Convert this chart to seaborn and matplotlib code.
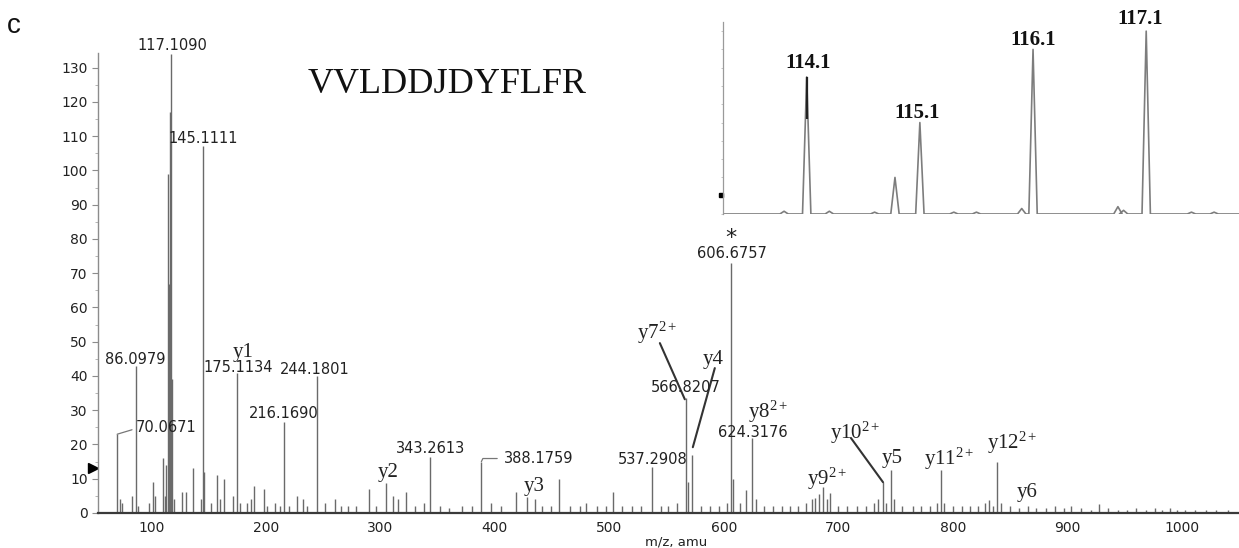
import matplotlib
matplotlib.use('Agg')
import numpy as np
import pandas as pd
import matplotlib.pyplot as plt
import seaborn as sns
from matplotlib.ticker import MultipleLocator, NullFormatter

sns.set_style('ticks')
plt.rcParams['font.family'] = ['DejaVu Sans']
plt.rcParams['mathtext.fontset'] = 'custom'
plt.rcParams['mathtext.rm'] = 'Liberation Serif'
plt.rcParams['mathtext.it'] = 'Liberation Serif:italic'

# ---------------- data: MS/MS spectrum (m/z, intensity) ----------------
peak_mz = [70.07, 72.1, 74.0, 83.4, 86.10, 88.0, 98.0, 101.1, 103.5, 110.1, 112.1,
           113.1, 114.1, 115.1, 116.1, 117.11, 118.1, 120.1, 127.1, 130.5, 136.1, 143.1,
           145.11, 146.1, 152.0, 157.6, 160.0, 163.0, 170.8, 175.11, 177.0, 183.8, 187.0,
           190.0, 198.7, 201.0, 208.0, 212.0, 216.17, 220.0, 227.5, 232.0, 236.0, 244.18,
           252.0, 260.0, 266.0, 272.0, 279.0, 290.4, 296.0, 305.0, 311.0, 315.0, 322.0,
           330.0, 338.0, 343.26, 352.0, 360.0, 371.0, 380.0, 388.18, 397.0, 405.0, 418.0,
           428.0, 434.6, 441.0, 449.0, 456.0, 466.0, 474.0, 480.0, 489.0, 497.0, 503.5,
           511.0, 520.0, 528.0, 537.29, 545.0, 551.0, 559.0, 566.82, 568.8, 572.5, 580.0,
           588.0, 596.0, 603.0, 606.68, 608.0, 614.0, 619.6, 624.32, 628.0, 635.0, 643.0,
           651.0, 658.0, 665.0, 672.0, 677.0, 680.0, 683.4, 686.9, 690.0, 693.0, 700.0,
           708.0, 716.0, 724.0, 731.0, 735.0, 739.0, 742.0, 746.0, 749.0, 756.0, 765.0,
           772.0, 780.0, 786.0, 789.5, 792.0, 800.0, 808.0, 815.0, 822.0, 828.0, 831.5,
           835.0, 839.0, 842.0, 850.0, 858.0, 866.0, 873.0, 881.0, 889.0, 897.0, 903.0,
           912.0, 921.0, 928.0, 936.0, 944.0, 952.0, 960.0, 969.0, 977.0, 983.0, 990.0,
           996.0, 1003.0, 1012.0, 1021.0, 1030.0, 1040.0]
peak_int = [23, 4, 3, 5, 43, 2, 3, 9, 5, 16, 5,
            14, 99, 67, 117, 134, 39, 4, 6, 6, 13, 4,
            107, 12, 3, 11, 4, 10, 5, 41, 3, 3, 4,
            8, 7, 2, 3, 2, 26.5, 2, 5, 4, 2, 40,
            3, 4, 2, 2, 2, 7, 2, 8.7, 5, 4, 6,
            2, 3, 16.3, 2, 1.5, 2, 2, 15, 3, 2, 6,
            4.7, 4, 2, 2, 10, 2, 2, 3, 2, 2, 6,
            2, 2, 2, 13.4, 2, 2, 3, 33.5, 9, 17, 2,
            2, 2, 3, 73, 10, 3, 6.7, 22, 4, 2, 2,
            2, 2, 2, 3, 4, 4.4, 5.5, 7.6, 4, 5.8, 2,
            2, 2, 2, 3, 4, 9, 3, 12.5, 4, 2, 2,
            2, 2, 3, 12.5, 3, 2, 2, 2, 2, 3, 3.8,
            2, 15, 3, 2, 1.5, 2, 1.5, 1.5, 2, 1.5, 2,
            1.5, 1, 2.5, 1.5, 1, 1, 1.5, 1, 1.5, 1, 1.5,
            1, 1, 1, 1, 1, 1]

# annotated precursor/fragment m/z values
mz_labels = [70.0671, 86.0979, 117.1090, 145.1111, 175.1134, 216.1690, 244.1801,
             343.2613, 388.1759, 537.2908, 566.8207, 606.6757, 624.3176]
mz_label_x = [112.7, 85.6, 118.3, 145.0, 175.5, 215.7, 242.8,
              344.1, 438.4, 538.0, 566.8, 607.0, 625.3]
mz_label_y = [25.1, 44.9, 136.4, 109.3, 42.6, 28.9, 42.0,
              18.9, 16.0, 15.7, 36.7, 75.8, 23.6]

ion_labels = ['y1', 'y2', 'y3', 'y4', 'y5', 'y6', r'y7$^{\mathrm{2+}}$', r'y8$^{\mathrm{2+}}$',
              r'y9$^{\mathrm{2+}}$', r'y10$^{\mathrm{2+}}$', r'y11$^{\mathrm{2+}}$', r'y12$^{\mathrm{2+}}$']
ion_x = [180.0, 306.6, 434.0, 590.4, 746.7, 864.6, 541.5, 638.5, 690.0, 714.4, 796.5, 851.5]
ion_y = [46.9, 11.7, 7.6, 44.9, 16.0, 6.1, 52.5, 29.4, 9.9, 23.3, 15.7, 20.4]

peptide = 'VVLDDJDYFLFR'

# inset: iTRAQ reporter region
inset_mz = [113.9, 114.1, 114.3, 114.7, 114.88, 115.1, 115.4, 115.6, 116.0, 116.1, 116.85, 116.9, 117.1, 117.5, 117.7]
inset_int = [1.5, 75, 1.5, 1, 20, 50, 1, 1, 3, 90, 4, 2, 100, 1, 1]
inset_labels = ['114.1', '115.1', '116.1', '117.1']
inset_label_x = [114.11, 115.08, 116.1, 117.05]
inset_label_y = [82.6, 55.2, 95.2, 106.6]

# ---------------- figure ----------------
fig = plt.figure(figsize=(12.39, 5.48), dpi=100)
ax = fig.add_axes([0.0791, 0.0639, 0.9209, 0.8394])

ax.vlines(peak_mz, 0, peak_int, color='#6a6a6a', lw=1.0, zorder=2)
ax.set_xlim(53.3, 1050)
ax.set_ylim(0, 134.3)

for s in ['top', 'right']:
    ax.spines[s].set_visible(False)
ax.spines['left'].set_color('#8c8c8c')
ax.spines['left'].set_linewidth(1.0)
ax.spines['bottom'].set_color('#3a3a3a')
ax.spines['bottom'].set_linewidth(1.6)

ax.set_yticks(np.arange(0, 131, 10))
ax.yaxis.set_minor_locator(MultipleLocator(5))
ax.set_xticks(np.arange(100, 1001, 100))
ax.tick_params(axis='y', which='major', length=4.5, width=0.8, color='#8c8c8c',
               labelsize=10, pad=3, labelcolor='#222222')
ax.tick_params(axis='y', which='minor', length=2.5, width=0.6, color='#aaaaaa')
ax.tick_params(axis='x', which='major', length=0, labelsize=10, pad=6, labelcolor='#222222')
ax.set_xlabel('m/z, amu', fontsize=9.5, color='#222222', va='center')
ax.xaxis.set_label_coords(0.507, -0.063)

# numeric labels
for t, x, y in zip(mz_labels, mz_label_x, mz_label_y):
    ax.text(x, y, f'{t:.4f}', fontsize=10.5, ha='center', va='center', color='#222222',
            clip_on=False, zorder=4)

# ion labels (serif)
for t, x, y in zip(ion_labels, ion_x, ion_y):
    ax.text(x, y, t, fontsize=15, ha='center', va='center', family='Liberation Serif',
            color='#222222', zorder=4)

# leader lines
lc = '#333333'
ax.plot([mz_labels[0], 83.0], [peak_int[0], 24.3], color='#777777', lw=0.9)
ax.plot([mz_labels[8], 389.5, 402.0], [15, 15.9, 15.9], color='#777777', lw=0.9)
ax.plot([544.1, 565.9], [49.6, 33.2], color=lc, lw=1.5)
ax.plot([592.1, 572.9], [42.3, 19.2], color=lc, lw=1.5)
ax.plot([711.0, 739.0], [21.9, 9.0], color=lc, lw=1.5)

ax.text(606.1, 80.2, '*', fontsize=16, ha='center', va='center', color='#222222')
ax.text(358.5, 125.1, peptide, fontsize=26, family='Liberation Serif', ha='center',
        va='center', color='#111111')

# precursor marker on y axis
ax.plot([-0.004], [13.1], marker='>', ms=7, color='black',
        transform=ax.get_yaxis_transform(), clip_on=False)

fig.text(0.0113, 0.952, 'c', fontsize=20, ha='center', va='center',
         family='Liberation Sans', color='#111111')

# ---------------- inset ----------------
axin = fig.add_axes([0.5835, 0.6095, 0.4165, 0.3504])
hw = 0.037
pts_x = [113.36]
pts_y = [0.0]
for c, h in zip(inset_mz, inset_int):
    pts_x += [c - hw, c, c + hw]
    pts_y += [0.0, h, 0.0]
pts_x.append(117.92)
pts_y.append(0.0)
df_in = pd.DataFrame({'mz': pts_x, 'intensity': pts_y})
sns.lineplot(data=df_in, x='mz', y='intensity', sort=False, estimator=None,
             color='#7d7d7d', lw=1.2, ax=axin)
axin.vlines([inset_mz[1]], 52, 75, color='#222222', lw=1.6)
axin.set_xlim(113.36, 117.92)
axin.set_ylim(0, 105)
axin.set_xlabel('')
axin.set_ylabel('')
for s in ['top', 'right', 'bottom']:
    axin.spines[s].set_visible(False)
axin.spines['left'].set_color('#9a9a9a')
axin.spines['left'].set_linewidth(0.9)
axin.set_xticks([])
axin.yaxis.set_major_locator(MultipleLocator(10))
axin.yaxis.set_major_formatter(NullFormatter())
axin.tick_params(axis='y', length=1.5, width=0.6, color='#bbbbbb')
axin.patch.set_alpha(0)
for t, x, y in zip(inset_labels, inset_label_x, inset_label_y):
    axin.text(x, y, t, fontsize=15, family='Liberation Serif', weight='bold',
              ha='center', va='center', color='#111111', clip_on=False)
axin.plot([-0.004], [10.4], marker='s', ms=2.5, color='black',
          transform=axin.get_yaxis_transform(), clip_on=False)

fig.savefig('out.png', dpi=100)
